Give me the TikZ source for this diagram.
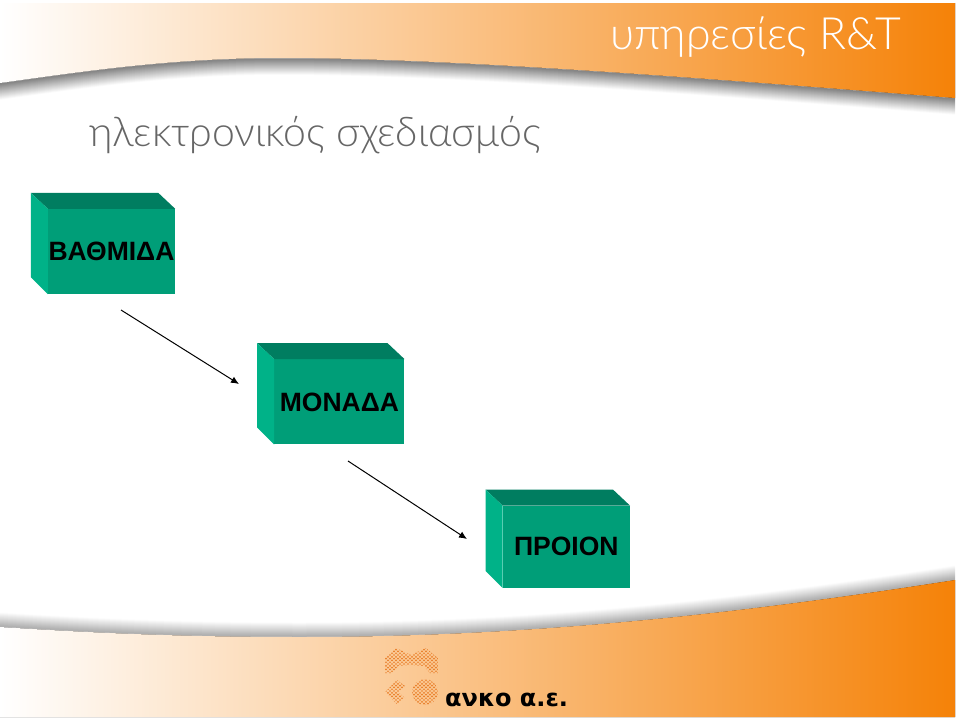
\documentclass[tikz,border=0pt]{standalone}
\usepackage{fontspec}
\setmainfont{Liberation Sans}
\newfontfamily\titlefont{Lato Light}
\newfontfamily\logofont{DejaVu Sans}
\usetikzlibrary{positioning,arrows.meta}
\definecolor{avkoorange}{RGB}{245,130,8}
\definecolor{avkomiddle}{RGB}{248,188,122}
\definecolor{boxfront}{RGB}{0,158,120}
\definecolor{boxtop}{RGB}{0,125,96}
\definecolor{boxleft}{RGB}{0,178,136}
\definecolor{logodot}{RGB}{232,125,40}
\newcommand{\bandtop}{(0,83) .. controls (80,72) and (170,58) .. (280,58) .. controls (450,58) and (700,78) .. (955,98)}
\newcommand{\bandbottom}{(0,627) .. controls (80,632) and (170,637) .. (300,637) .. controls (500,637) and (700,620) .. (955,580)}

\begin{document}
\begin{tikzpicture}[x=1pt,y=-1pt,
  band/.style={
  % The filling:
  left color=white,
  middle color=avkomiddle,
  right color=avkoorange
  },
  stage/.style={
  % The shape:
  rectangle,
  % The size:
  minimum width=127pt,
  minimum height=85pt,
  inner sep=0pt,
  % The filling:
  fill=boxfront,
  % Font
  font=\fontsize{26.5}{26.5}\selectfont\bfseries
  },
  heading/.style={
  anchor=base west,
  inner sep=0pt
  },
  link/.style={-{Latex[length=8pt,width=7pt]},line width=1pt}]
  \useasboundingbox (0,0) rectangle (959,720);

  % upper band with its shadow
  \foreach \i [evaluate=\i as \tone using 50-3*\i] in {16,...,1}
    \draw[black!\tone,line width=1.5pt,shift={(0,\i)}] \bandtop;
  \fill[band] (0,3) -- (955,3) -- (955,98) .. controls (700,78) and (450,58) .. (280,58)
    .. controls (170,58) and (80,72) .. (0,83) -- cycle;

  % lower band with its shadow
  \foreach \i [evaluate=\i as \tone using 33-2.3*\i] in {14,...,1}
    \draw[black!\tone,line width=1.5pt,shift={(0,-\i)}] \bandbottom;
  \fill[band] (0,717) -- (955,717) -- (955,580) .. controls (700,620) and (500,637) .. (300,637)
    .. controls (170,637) and (80,632) .. (0,627) -- cycle;

  \node (service) [heading,text=white,font=\titlefont\fontsize{44.5}{44.5}\selectfont] at (610,49) {υπηρεσίες R\&T};
  \node (design) [heading,text=black!60,font=\titlefont\fontsize{41}{41}\selectfont] at (89,146) {ηλεκτρονικός σχεδιασμός};

  \node (vathmida) [stage] at (111.5,251.5) {ΒΑΘΜΙΔΑ};
  \node (monada) [stage,minimum width=130pt,below right=65pt and 99pt of vathmida] {ΜΟΝΑΔΑ};
  \node (proion) [stage,minimum height=82pt,below right=61pt and 98pt of monada] {ΠΡΟΙΟΝ};

  \foreach \cube in {vathmida,monada,proion} {
    \fill[boxtop] (\cube.north west) -- ++(-17,-16) -- ([shift={(-17,-16)}]\cube.north east) -- (\cube.north east) -- cycle;
    \fill[boxleft] (\cube.north west) -- ++(-17,-16) -- ([shift={(-17,-17)}]\cube.south west) -- (\cube.south west) -- cycle;
  }

  \coordinate (vathmidaOut) at (121,310);
  \coordinate (monadaIn) at (239,384);
  \coordinate (monadaOut) at (348,461);
  \coordinate (proionIn) at (467,539);
  \draw[link] (vathmidaOut) to (monadaIn);
  \draw[link] (monadaOut) to (proionIn);

  % logo
  \begin{scope}
    \clip (385,658) -- (396,648) -- (411,655) -- (426,648) -- (438,658) -- (438,673) -- (430,673) -- (424,666) -- (411,665) -- (398,666) -- (392,673) -- (385,673) -- cycle
      (397,680) -- (405,686) -- (398,692) -- (405,698) -- (397,704) -- (385,692) -- cycle
      (425,692) circle (13);
    \foreach \a in {0,...,14}
      \foreach \b in {0,...,16} {
        \fill[logodot] (384+4*\a,646+3.6*\b) circle (0.95);
        \fill[logodot] (386+4*\a,647.8+3.6*\b) circle (0.95);
      }
  \end{scope}
  \node (avko) [heading,font=\logofont\bfseries\fontsize{24}{24}\selectfont] at (445,706) {ανκο α.ε.};
\end{tikzpicture}
\end{document}
